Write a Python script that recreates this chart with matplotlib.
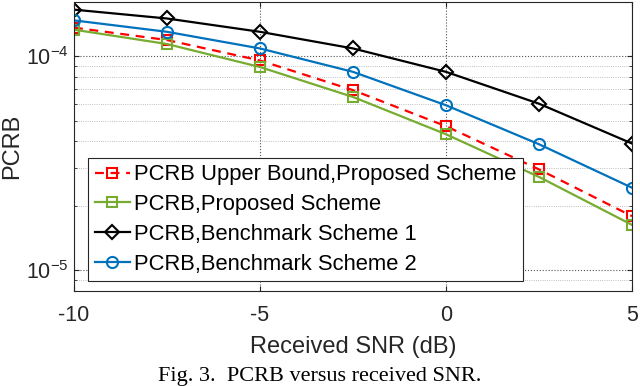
import matplotlib.pyplot as plt
from matplotlib.ticker import LogLocator, NullFormatter

plt.rcParams['font.family'] = ['Liberation Sans', 'DejaVu Sans']
plt.rcParams['mathtext.fontset'] = 'custom'
plt.rcParams['mathtext.rm'] = 'Liberation Sans'

snr = [-10, -7.5, -5, -2.5, 0, 2.5, 5]
upper_bound = [1.36e-4, 1.19e-4, 9.55e-5, 6.94e-5, 4.71e-5, 2.96e-5, 1.79e-5]
proposed = [1.33e-4, 1.14e-4, 8.9e-5, 6.45e-5, 4.32e-5, 2.73e-5, 1.63e-5]
benchmark1 = [1.65e-4, 1.50e-4, 1.30e-4, 1.087e-4, 8.45e-5, 6.0e-5, 3.91e-5]
benchmark2 = [1.47e-4, 1.30e-4, 1.087e-4, 8.45e-5, 5.9e-5, 3.88e-5, 2.43e-5]
labels = ['PCRB Upper Bound,Proposed Scheme', 'PCRB,Proposed Scheme',
          'PCRB,Benchmark Scheme 1', 'PCRB,Benchmark Scheme 2']

fig = plt.figure(figsize=(6.4, 3.86), dpi=100)
ax = fig.add_axes([0.1156, 0.246, 0.8719, 0.75])

ax.semilogy(snr, upper_bound, '--s', color='#FF0000', lw=1.6, ms=7,
            mfc='none', mew=1.5, label=labels[0], dashes=(4, 3))
ax.semilogy(snr, proposed, '-s', color='#77AC30', lw=1.6, ms=7,
            mfc='none', mew=1.5, label=labels[1])
ax.semilogy(snr, benchmark1, '-D', color='black', lw=1.6, ms=7,
            mfc='none', mew=1.5, label=labels[2])
ax.semilogy(snr, benchmark2, '-o', color='#0072BD', lw=1.6, ms=8,
            mfc='none', mew=1.5, label=labels[3])

ax.set_xlim(-10, 5)
ax.set_ylim(8e-6, 1.8e-4)
ax.set_xticks([-10, -5, 0, 5])
ax.set_xticklabels(['-10', '-5', '0', '5'])
ax.yaxis.set_major_locator(LogLocator(base=10, numticks=10))
ax.yaxis.set_minor_locator(LogLocator(base=10, subs=range(2, 10), numticks=10))
ax.yaxis.set_minor_formatter(NullFormatter())
ax.grid(True, which='major', linestyle=':', color='#555555', lw=0.8)
ax.grid(True, which='minor', axis='y', linestyle=':', color='#aaaaaa', lw=0.6)
ax.tick_params(which='both', direction='in', top=True, right=True,
               labelsize=15.5, colors='#262626')
ax.tick_params(axis='x', pad=10)
ax.tick_params(axis='y', pad=4)
for s in ax.spines.values():
    s.set_color('#262626')
    s.set_linewidth(0.8)

ax.set_xlabel('Received SNR (dB)', fontsize=17, color='#262626')
ax.set_ylabel('PCRB', fontsize=17, color='#262626')
ax.xaxis.set_label_coords(0.5, -0.155)
ax.yaxis.set_label_coords(-0.091, 0.5)

leg = ax.legend(loc='lower left', bbox_to_anchor=(0.025, 0.034), fontsize=15.8,
                handlelength=1.6, handletextpad=0.2, labelspacing=0.4,
                borderpad=0.3, borderaxespad=0, fancybox=False, framealpha=1)
leg.get_frame().set_edgecolor('#262626')
leg.get_frame().set_linewidth(0.8)

fig.text(0.5, 0.013, 'Fig. 3.  PCRB versus received SNR.', ha='center',
         fontsize=16, family='Liberation Serif')

fig.savefig('out.png', dpi=100)
